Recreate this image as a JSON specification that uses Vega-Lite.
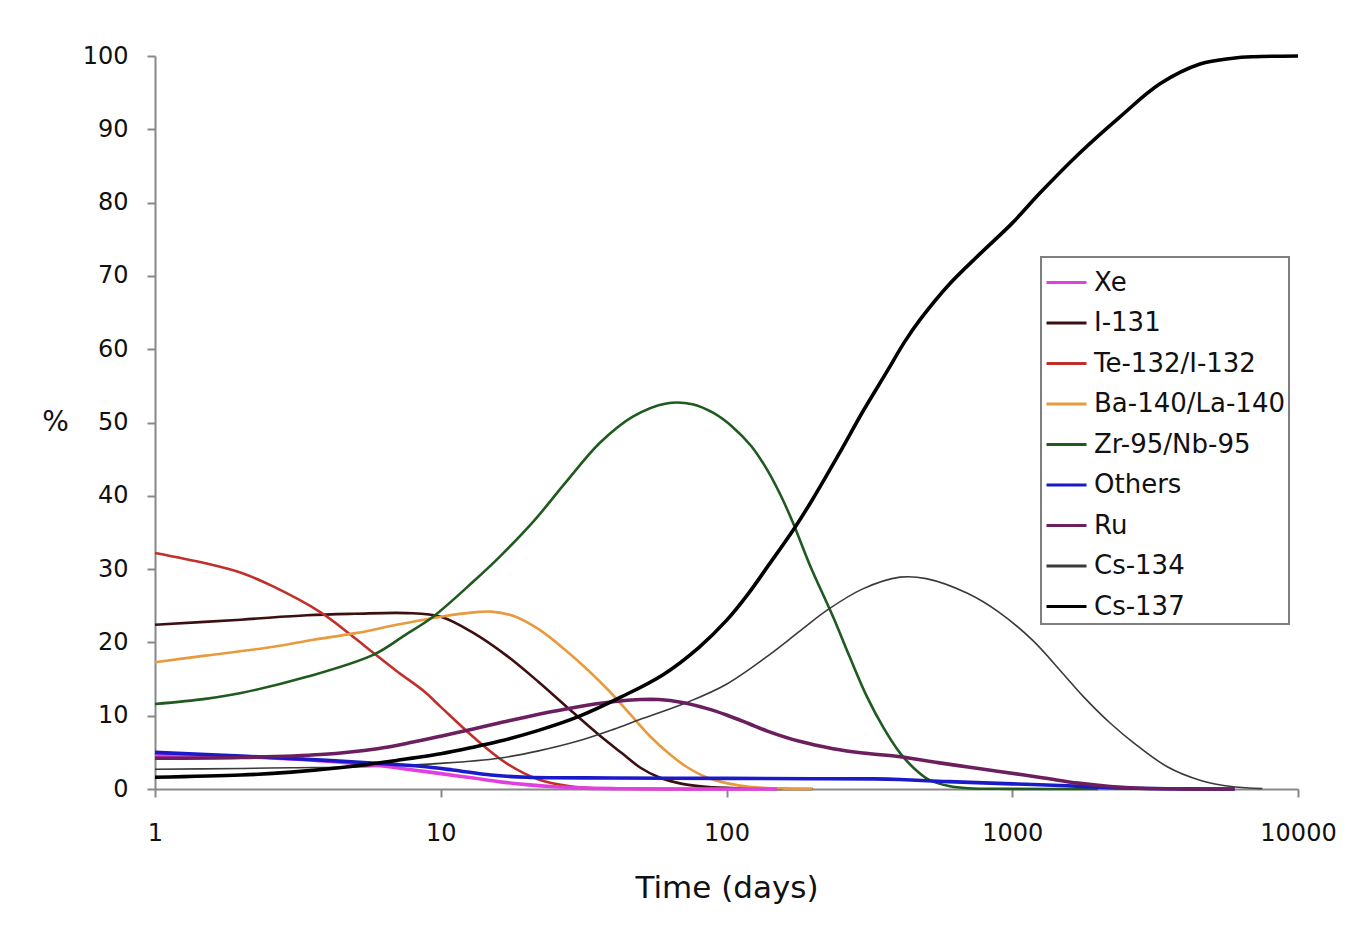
{
  "$schema": "https://vega.github.io/schema/vega-lite/v6.json",
  "width": 1143,
  "height": 733,
  "autosize": {"type": "none"},
  "padding": {"left": 155, "top": 56, "right": 67, "bottom": 151},
  "background": "white",
  "config": {
    "view": {"stroke": null},
    "font": "DejaVu Sans",
    "legend": {
      "orient": "none",
      "legendX": 886,
      "legendY": 201,
      "strokeColor": "#7f7f7f",
      "strokeWidth": 2,
      "fillColor": "white",
      "padding": 4,
      "symbolType": "stroke",
      "symbolSize": 1600,
      "symbolStrokeWidth": 3,
      "rowPadding": 5.5,
      "labelFontSize": 26,
      "labelColor": "#111111",
      "labelOffset": 6,
      "labelLimit": 400,
      "title": null
    }
  },
  "data": {
    "values": [
      {"isotope": "Xe", "days": 1, "pct": 4.6},
      {"isotope": "Xe", "days": 2, "pct": 4.4},
      {"isotope": "Xe", "days": 3, "pct": 4.1},
      {"isotope": "Xe", "days": 4, "pct": 3.8},
      {"isotope": "Xe", "days": 6, "pct": 3.2},
      {"isotope": "Xe", "days": 8, "pct": 2.6},
      {"isotope": "Xe", "days": 10, "pct": 2.1},
      {"isotope": "Xe", "days": 13, "pct": 1.5},
      {"isotope": "Xe", "days": 16, "pct": 1.0},
      {"isotope": "Xe", "days": 20, "pct": 0.6},
      {"isotope": "Xe", "days": 25, "pct": 0.3},
      {"isotope": "Xe", "days": 30, "pct": 0.15},
      {"isotope": "Xe", "days": 40, "pct": 0.05},
      {"isotope": "Xe", "days": 60, "pct": 0.01},
      {"isotope": "Xe", "days": 150, "pct": 0},

      {"isotope": "I-131", "days": 1, "pct": 22.4},
      {"isotope": "I-131", "days": 2, "pct": 23.1},
      {"isotope": "I-131", "days": 3.4, "pct": 23.7},
      {"isotope": "I-131", "days": 5, "pct": 23.9},
      {"isotope": "I-131", "days": 7.6, "pct": 24.0},
      {"isotope": "I-131", "days": 10, "pct": 23.5},
      {"isotope": "I-131", "days": 13, "pct": 21.3},
      {"isotope": "I-131", "days": 17, "pct": 18.2},
      {"isotope": "I-131", "days": 22, "pct": 14.6},
      {"isotope": "I-131", "days": 27.6, "pct": 11.2},
      {"isotope": "I-131", "days": 36, "pct": 7.3},
      {"isotope": "I-131", "days": 43, "pct": 4.9},
      {"isotope": "I-131", "days": 50, "pct": 2.9},
      {"isotope": "I-131", "days": 58, "pct": 1.6},
      {"isotope": "I-131", "days": 70, "pct": 0.7},
      {"isotope": "I-131", "days": 85, "pct": 0.3},
      {"isotope": "I-131", "days": 110, "pct": 0.1},
      {"isotope": "I-131", "days": 150, "pct": 0.02},
      {"isotope": "I-131", "days": 200, "pct": 0},

      {"isotope": "Te-132/I-132", "days": 1, "pct": 32.2},
      {"isotope": "Te-132/I-132", "days": 1.5, "pct": 30.8},
      {"isotope": "Te-132/I-132", "days": 2, "pct": 29.5},
      {"isotope": "Te-132/I-132", "days": 2.6, "pct": 27.6},
      {"isotope": "Te-132/I-132", "days": 3.8, "pct": 24.1},
      {"isotope": "Te-132/I-132", "days": 5, "pct": 20.6},
      {"isotope": "Te-132/I-132", "days": 5.8, "pct": 18.6},
      {"isotope": "Te-132/I-132", "days": 7, "pct": 16.1},
      {"isotope": "Te-132/I-132", "days": 8.7, "pct": 13.4},
      {"isotope": "Te-132/I-132", "days": 10, "pct": 11.2},
      {"isotope": "Te-132/I-132", "days": 13, "pct": 7.1},
      {"isotope": "Te-132/I-132", "days": 17, "pct": 3.5},
      {"isotope": "Te-132/I-132", "days": 22, "pct": 1.3},
      {"isotope": "Te-132/I-132", "days": 28, "pct": 0.4},
      {"isotope": "Te-132/I-132", "days": 35, "pct": 0.1},
      {"isotope": "Te-132/I-132", "days": 50, "pct": 0.02},
      {"isotope": "Te-132/I-132", "days": 150, "pct": 0},

      {"isotope": "Ba-140/La-140", "days": 1, "pct": 17.3},
      {"isotope": "Ba-140/La-140", "days": 1.5, "pct": 18.2},
      {"isotope": "Ba-140/La-140", "days": 2.6, "pct": 19.4},
      {"isotope": "Ba-140/La-140", "days": 3.5, "pct": 20.3},
      {"isotope": "Ba-140/La-140", "days": 5.1, "pct": 21.3},
      {"isotope": "Ba-140/La-140", "days": 7, "pct": 22.4},
      {"isotope": "Ba-140/La-140", "days": 10, "pct": 23.5},
      {"isotope": "Ba-140/La-140", "days": 13, "pct": 24.1},
      {"isotope": "Ba-140/La-140", "days": 15, "pct": 24.2},
      {"isotope": "Ba-140/La-140", "days": 18, "pct": 23.6},
      {"isotope": "Ba-140/La-140", "days": 22, "pct": 21.8},
      {"isotope": "Ba-140/La-140", "days": 27.6, "pct": 18.8},
      {"isotope": "Ba-140/La-140", "days": 33, "pct": 16.1},
      {"isotope": "Ba-140/La-140", "days": 39, "pct": 13.3},
      {"isotope": "Ba-140/La-140", "days": 46, "pct": 10.2},
      {"isotope": "Ba-140/La-140", "days": 54, "pct": 7.2},
      {"isotope": "Ba-140/La-140", "days": 63, "pct": 4.8},
      {"isotope": "Ba-140/La-140", "days": 72.6, "pct": 3.0},
      {"isotope": "Ba-140/La-140", "days": 85, "pct": 1.6},
      {"isotope": "Ba-140/La-140", "days": 100, "pct": 0.8},
      {"isotope": "Ba-140/La-140", "days": 120, "pct": 0.3},
      {"isotope": "Ba-140/La-140", "days": 160, "pct": 0.05},
      {"isotope": "Ba-140/La-140", "days": 200, "pct": 0},

      {"isotope": "Zr-95/Nb-95", "days": 1, "pct": 11.6},
      {"isotope": "Zr-95/Nb-95", "days": 1.5, "pct": 12.3},
      {"isotope": "Zr-95/Nb-95", "days": 2, "pct": 13.1},
      {"isotope": "Zr-95/Nb-95", "days": 3.4, "pct": 15.3},
      {"isotope": "Zr-95/Nb-95", "days": 5.8, "pct": 18.3},
      {"isotope": "Zr-95/Nb-95", "days": 7.5, "pct": 21.0},
      {"isotope": "Zr-95/Nb-95", "days": 9.4, "pct": 23.5},
      {"isotope": "Zr-95/Nb-95", "days": 13, "pct": 28.3},
      {"isotope": "Zr-95/Nb-95", "days": 16, "pct": 31.6},
      {"isotope": "Zr-95/Nb-95", "days": 21, "pct": 36.4},
      {"isotope": "Zr-95/Nb-95", "days": 27.6, "pct": 42.0},
      {"isotope": "Zr-95/Nb-95", "days": 36, "pct": 47.2},
      {"isotope": "Zr-95/Nb-95", "days": 47, "pct": 50.8},
      {"isotope": "Zr-95/Nb-95", "days": 61.6, "pct": 52.6},
      {"isotope": "Zr-95/Nb-95", "days": 76, "pct": 52.5},
      {"isotope": "Zr-95/Nb-95", "days": 90, "pct": 51.3},
      {"isotope": "Zr-95/Nb-95", "days": 105, "pct": 49.4},
      {"isotope": "Zr-95/Nb-95", "days": 122, "pct": 46.8},
      {"isotope": "Zr-95/Nb-95", "days": 139, "pct": 43.5},
      {"isotope": "Zr-95/Nb-95", "days": 155, "pct": 40.0},
      {"isotope": "Zr-95/Nb-95", "days": 171, "pct": 36.3},
      {"isotope": "Zr-95/Nb-95", "days": 196, "pct": 30.5},
      {"isotope": "Zr-95/Nb-95", "days": 236, "pct": 23.5},
      {"isotope": "Zr-95/Nb-95", "days": 270, "pct": 18.0},
      {"isotope": "Zr-95/Nb-95", "days": 310, "pct": 12.6},
      {"isotope": "Zr-95/Nb-95", "days": 355, "pct": 8.3},
      {"isotope": "Zr-95/Nb-95", "days": 405, "pct": 4.9},
      {"isotope": "Zr-95/Nb-95", "days": 460, "pct": 2.6},
      {"isotope": "Zr-95/Nb-95", "days": 514, "pct": 1.2},
      {"isotope": "Zr-95/Nb-95", "days": 600, "pct": 0.4},
      {"isotope": "Zr-95/Nb-95", "days": 700, "pct": 0.1},
      {"isotope": "Zr-95/Nb-95", "days": 1000, "pct": 0.02},
      {"isotope": "Zr-95/Nb-95", "days": 2000, "pct": 0},

      {"isotope": "Others", "days": 1, "pct": 5.0},
      {"isotope": "Others", "days": 2, "pct": 4.5},
      {"isotope": "Others", "days": 4, "pct": 3.9},
      {"isotope": "Others", "days": 6, "pct": 3.5},
      {"isotope": "Others", "days": 8.5, "pct": 3.1},
      {"isotope": "Others", "days": 11, "pct": 2.6},
      {"isotope": "Others", "days": 15, "pct": 1.9},
      {"isotope": "Others", "days": 20, "pct": 1.6},
      {"isotope": "Others", "days": 40, "pct": 1.5},
      {"isotope": "Others", "days": 100, "pct": 1.45},
      {"isotope": "Others", "days": 200, "pct": 1.4},
      {"isotope": "Others", "days": 330, "pct": 1.38},
      {"isotope": "Others", "days": 405, "pct": 1.3},
      {"isotope": "Others", "days": 600, "pct": 1.0},
      {"isotope": "Others", "days": 1000, "pct": 0.7},
      {"isotope": "Others", "days": 1560, "pct": 0.45},
      {"isotope": "Others", "days": 2000, "pct": 0.25},
      {"isotope": "Others", "days": 2660, "pct": 0.1},
      {"isotope": "Others", "days": 4000, "pct": 0.02},
      {"isotope": "Others", "days": 6000, "pct": 0},

      {"isotope": "Ru", "days": 1, "pct": 4.2},
      {"isotope": "Ru", "days": 2, "pct": 4.3},
      {"isotope": "Ru", "days": 3.8, "pct": 4.7},
      {"isotope": "Ru", "days": 6, "pct": 5.5},
      {"isotope": "Ru", "days": 8, "pct": 6.4},
      {"isotope": "Ru", "days": 10, "pct": 7.2},
      {"isotope": "Ru", "days": 13, "pct": 8.2},
      {"isotope": "Ru", "days": 16, "pct": 9.0},
      {"isotope": "Ru", "days": 22, "pct": 10.2},
      {"isotope": "Ru", "days": 30, "pct": 11.2},
      {"isotope": "Ru", "days": 40, "pct": 11.9},
      {"isotope": "Ru", "days": 50, "pct": 12.2},
      {"isotope": "Ru", "days": 58, "pct": 12.2},
      {"isotope": "Ru", "days": 70, "pct": 11.8},
      {"isotope": "Ru", "days": 85, "pct": 11.0},
      {"isotope": "Ru", "days": 100, "pct": 10.1},
      {"isotope": "Ru", "days": 120, "pct": 8.9},
      {"isotope": "Ru", "days": 139, "pct": 7.9},
      {"isotope": "Ru", "days": 180, "pct": 6.5},
      {"isotope": "Ru", "days": 236, "pct": 5.5},
      {"isotope": "Ru", "days": 300, "pct": 4.9},
      {"isotope": "Ru", "days": 405, "pct": 4.4},
      {"isotope": "Ru", "days": 550, "pct": 3.6},
      {"isotope": "Ru", "days": 700, "pct": 3.0},
      {"isotope": "Ru", "days": 900, "pct": 2.4},
      {"isotope": "Ru", "days": 1290, "pct": 1.5},
      {"isotope": "Ru", "days": 1700, "pct": 0.8},
      {"isotope": "Ru", "days": 2200, "pct": 0.35},
      {"isotope": "Ru", "days": 2800, "pct": 0.1},
      {"isotope": "Ru", "days": 4000, "pct": 0.02},
      {"isotope": "Ru", "days": 6000, "pct": 0},

      {"isotope": "Cs-134", "days": 1, "pct": 2.7},
      {"isotope": "Cs-134", "days": 2, "pct": 2.8},
      {"isotope": "Cs-134", "days": 3, "pct": 2.9},
      {"isotope": "Cs-134", "days": 5, "pct": 3.0},
      {"isotope": "Cs-134", "days": 7, "pct": 3.2},
      {"isotope": "Cs-134", "days": 10, "pct": 3.5},
      {"isotope": "Cs-134", "days": 16, "pct": 4.2},
      {"isotope": "Cs-134", "days": 22, "pct": 5.2},
      {"isotope": "Cs-134", "days": 30, "pct": 6.5},
      {"isotope": "Cs-134", "days": 40, "pct": 8.1},
      {"isotope": "Cs-134", "days": 50, "pct": 9.5},
      {"isotope": "Cs-134", "days": 72.6, "pct": 11.8},
      {"isotope": "Cs-134", "days": 100, "pct": 14.3},
      {"isotope": "Cs-134", "days": 140, "pct": 18.2},
      {"isotope": "Cs-134", "days": 180, "pct": 21.5},
      {"isotope": "Cs-134", "days": 225, "pct": 24.4},
      {"isotope": "Cs-134", "days": 300, "pct": 27.3},
      {"isotope": "Cs-134", "days": 405, "pct": 28.9},
      {"isotope": "Cs-134", "days": 500, "pct": 28.7},
      {"isotope": "Cs-134", "days": 697, "pct": 26.7},
      {"isotope": "Cs-134", "days": 900, "pct": 24.1},
      {"isotope": "Cs-134", "days": 1177, "pct": 20.3},
      {"isotope": "Cs-134", "days": 1500, "pct": 15.8},
      {"isotope": "Cs-134", "days": 1774, "pct": 12.6},
      {"isotope": "Cs-134", "days": 2200, "pct": 9.0},
      {"isotope": "Cs-134", "days": 2660, "pct": 6.3},
      {"isotope": "Cs-134", "days": 3500, "pct": 3.0},
      {"isotope": "Cs-134", "days": 4540, "pct": 1.2},
      {"isotope": "Cs-134", "days": 5928, "pct": 0.3},
      {"isotope": "Cs-134", "days": 7500, "pct": 0.05},

      {"isotope": "Cs-137", "days": 1, "pct": 1.6},
      {"isotope": "Cs-137", "days": 2, "pct": 1.9},
      {"isotope": "Cs-137", "days": 3, "pct": 2.3},
      {"isotope": "Cs-137", "days": 4.4, "pct": 2.9},
      {"isotope": "Cs-137", "days": 7, "pct": 3.9},
      {"isotope": "Cs-137", "days": 10, "pct": 4.8},
      {"isotope": "Cs-137", "days": 13, "pct": 5.7},
      {"isotope": "Cs-137", "days": 16, "pct": 6.5},
      {"isotope": "Cs-137", "days": 22, "pct": 8.0},
      {"isotope": "Cs-137", "days": 30, "pct": 9.8},
      {"isotope": "Cs-137", "days": 43, "pct": 12.6},
      {"isotope": "Cs-137", "days": 60, "pct": 15.6},
      {"isotope": "Cs-137", "days": 80, "pct": 19.3},
      {"isotope": "Cs-137", "days": 100, "pct": 23.0},
      {"isotope": "Cs-137", "days": 120, "pct": 26.8},
      {"isotope": "Cs-137", "days": 139, "pct": 30.3},
      {"isotope": "Cs-137", "days": 171, "pct": 35.3},
      {"isotope": "Cs-137", "days": 200, "pct": 39.5},
      {"isotope": "Cs-137", "days": 250, "pct": 46.0},
      {"isotope": "Cs-137", "days": 300, "pct": 51.5},
      {"isotope": "Cs-137", "days": 365, "pct": 57.0},
      {"isotope": "Cs-137", "days": 420, "pct": 61.0},
      {"isotope": "Cs-137", "days": 475, "pct": 64.0},
      {"isotope": "Cs-137", "days": 600, "pct": 68.8},
      {"isotope": "Cs-137", "days": 771, "pct": 73.0},
      {"isotope": "Cs-137", "days": 1000, "pct": 77.2},
      {"isotope": "Cs-137", "days": 1250, "pct": 81.3},
      {"isotope": "Cs-137", "days": 1726, "pct": 86.8},
      {"isotope": "Cs-137", "days": 2383, "pct": 91.7},
      {"isotope": "Cs-137", "days": 3289, "pct": 96.2},
      {"isotope": "Cs-137", "days": 4540, "pct": 98.9},
      {"isotope": "Cs-137", "days": 5928, "pct": 99.7},
      {"isotope": "Cs-137", "days": 7000, "pct": 99.9},
      {"isotope": "Cs-137", "days": 10000, "pct": 100}
    ]
  },
  "encoding": {
    "x": {
      "field": "days",
      "type": "quantitative",
      "scale": {"type": "log", "domain": [1, 10000]},
      "axis": {
        "values": [1, 10, 100, 1000, 10000],
        "format": "d",
        "grid": false,
        "labelFontSize": 24,
        "labelColor": "#111111",
        "labelPadding": 24,
        "labelFlush": false,
        "domainColor": "#888888",
        "domainWidth": 2,
        "tickColor": "#888888",
        "tickWidth": 2,
        "tickSize": 8,
        "title": "Time (days)",
        "titleFontSize": 31,
        "titleFontWeight": "normal",
        "titleColor": "#111111",
        "titlePadding": 28
      }
    },
    "y": {
      "field": "pct",
      "type": "quantitative",
      "scale": {"domain": [0, 100]},
      "axis": {
        "values": [0, 10, 20, 30, 40, 50, 60, 70, 80, 90, 100],
        "grid": false,
        "labelFontSize": 24,
        "labelColor": "#111111",
        "labelPadding": 19,
        "domainColor": "#888888",
        "domainWidth": 2,
        "tickColor": "#888888",
        "tickWidth": 2,
        "tickSize": 8,
        "title": "%",
        "titleAngle": 0,
        "titleX": -100,
        "titleY": 366,
        "titleAlign": "center",
        "titleBaseline": "middle",
        "titleFontSize": 28,
        "titleFontWeight": "normal",
        "titleColor": "#111111"
      }
    },
    "color": {
      "field": "isotope",
      "type": "nominal",
      "scale": {
        "domain": ["Xe", "I-131", "Te-132/I-132", "Ba-140/La-140", "Zr-95/Nb-95", "Others", "Ru", "Cs-134", "Cs-137"],
        "range": ["#E040E0", "#3B1010", "#C0302A", "#E89A3C", "#1F5A1F", "#1A1AC8", "#6B1F5E", "#3A3A3A", "#000000"]
      },
      "legend": {"title": null}
    }
  },
  "layer": [
    {
      "transform": [{"filter": {"field": "isotope", "oneOf": ["I-131", "Te-132/I-132", "Ba-140/La-140", "Zr-95/Nb-95"]}}],
      "mark": {"type": "line", "interpolate": "catmull-rom", "strokeWidth": 2.6}
    },
    {
      "transform": [{"filter": {"field": "isotope", "oneOf": ["Cs-134"]}}],
      "mark": {"type": "line", "interpolate": "catmull-rom", "strokeWidth": 1.6}
    },
    {
      "transform": [{"filter": {"field": "isotope", "oneOf": ["Xe", "Others", "Ru", "Cs-137"]}}],
      "mark": {"type": "line", "interpolate": "catmull-rom", "strokeWidth": 3.6}
    }
  ]
}
